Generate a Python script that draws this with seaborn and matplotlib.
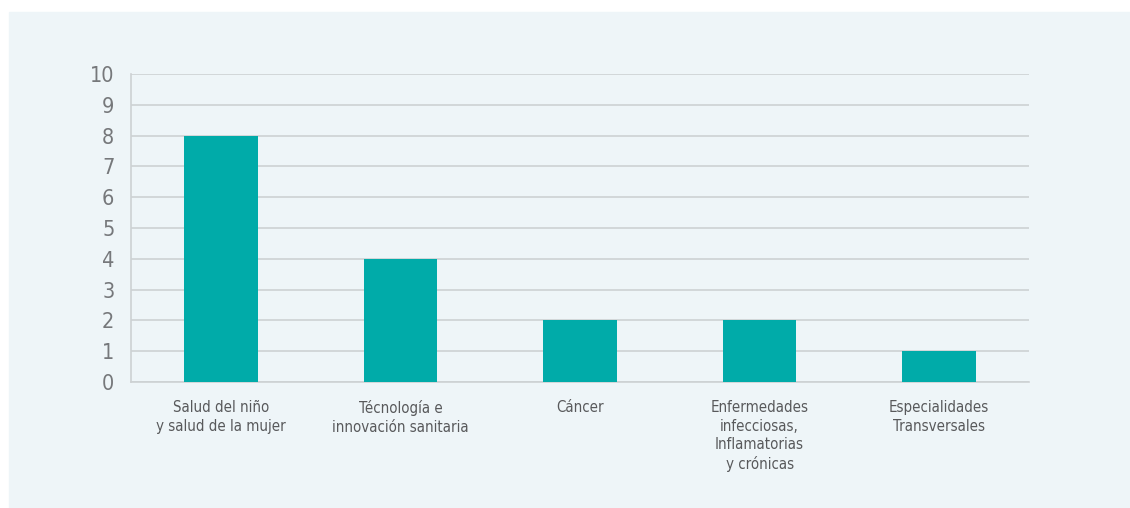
import matplotlib
matplotlib.use("Agg")
import matplotlib.pyplot as plt
from matplotlib import font_manager
import seaborn as sns
import pandas as pd

categories = [
    "Salud del niño\ny salud de la mujer",
    "Técnología e\ninnovación sanitaria",
    "Cáncer",
    "Enfermedades\ninfecciosas,\nInflamatorias\ny crónicas",
    "Especialidades\nTransversales",
]
values = [8, 4, 2, 2, 1]
yticks = list(range(0, 11))

BG = "#EEF5F8"
BAR = "#00ABA9"
GRID = "#CDD1D3"
TXT = "#58595B"
TICK = "#76787B"

sns.set_theme(style="white")
names = {f.name for f in font_manager.fontManager.ttflist}
stretch = "normal"
if "Liberation Sans Narrow" in names:
    fam = ["Liberation Sans Narrow", "DejaVu Sans"]
else:
    fam = ["DejaVu Sans"]
    stretch = "condensed"
plt.rcParams["font.family"] = fam

df = pd.DataFrame({"cat": categories, "val": values})

fig = plt.figure(figsize=(11.3, 5.08), dpi=100, facecolor="white")
bg = plt.Rectangle((9 / 1130, 0), 1 - 9 / 1130, (508 - 12) / 508,
                   transform=fig.transFigure, color=BG, zorder=-10)
fig.patches.append(bg)
ax = fig.add_axes([131 / 1130, 126 / 508, 898 / 1130, 308 / 508])
ax.set_zorder(1)
ax.patch.set_alpha(0)

sns.barplot(data=df, x="cat", y="val", color=BAR, width=0.41, saturation=1,
            linewidth=0, ax=ax, zorder=3)

ax.set_xlim(-0.5, 4.5)
ax.set_ylim(0, 10)
ax.set_yticks(yticks)
ax.set_yticklabels([str(t) for t in yticks], fontsize=15.5, color=TICK,
                   fontstretch=stretch, fontweight="light")
ax.set_xticks(range(len(categories)))
ax.set_xticklabels(categories, fontsize=10.8, color=TXT, linespacing=1.3, fontstretch=stretch)
ax.tick_params(axis="x", length=0, pad=13)
ax.tick_params(axis="y", length=0, pad=12)
ax.yaxis.grid(True, color=GRID, linewidth=1.2, zorder=0)
ax.set_axisbelow(True)
for s in ["top", "right"]:
    ax.spines[s].set_visible(False)
for s in ["left", "bottom"]:
    ax.spines[s].set_color(GRID)
    ax.spines[s].set_linewidth(1.2)
ax.set_xlabel("")
ax.set_ylabel("")

fig.savefig("out.png", dpi=100, facecolor="white")
